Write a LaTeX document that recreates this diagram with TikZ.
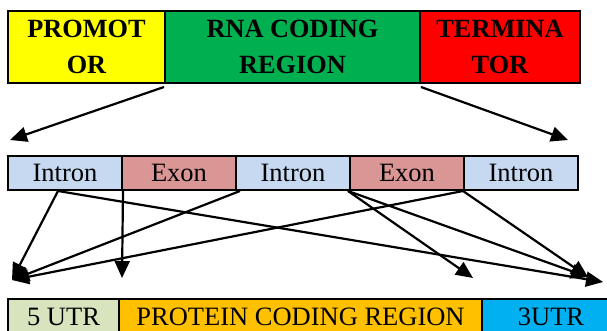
\documentclass[tikz,border=0pt]{standalone}
\usepackage{fontspec}
\setmainfont{Liberation Serif}
\usetikzlibrary{arrows.meta,positioning}

\definecolor{promyellow}{HTML}{FFFF00}
\definecolor{rnagreen}{HTML}{00B050}
\definecolor{termred}{HTML}{FF0000}
\definecolor{intronblue}{HTML}{C6D9F1}
\definecolor{exonpink}{HTML}{D99694}
\definecolor{utrgreen}{HTML}{D7E4BD}
\definecolor{protorange}{HTML}{FFC000}
\definecolor{utrcyan}{HTML}{00B0F0}

\tikzset{
  segbox/.style={draw=black, line width=2pt, inner sep=0pt, anchor=center},
  genebox/.style={segbox, minimum height=72pt, align=center,
    font=\bfseries\fontsize{26.3}{36}\selectfont},
  partbox/.style={segbox, minimum height=34pt, minimum width=114pt,
    font=\fontsize{26.5}{30}\selectfont},
  mrnabox/.style={segbox, minimum height=44pt,
    font=\fontsize{26.5}{30}\selectfont},
  link/.style={line width=2.2pt, draw=black,
    -{Triangle[length=17pt,width=15pt]}}
}

\begin{document}
\begin{tikzpicture}[x=1pt,y=1pt]
\useasboundingbox (0,0) rectangle (607,331);
\clip (0,0) rectangle (607,331);

% gene: promoter, RNA coding region, terminator
\node[genebox, fill=promyellow, minimum width=157pt] (prom) at (86.5,284) {PROMOT\\OR};
\node[genebox, fill=rnagreen, minimum width=255pt] (rna) at (292.5,284) {RNA CODING\\REGION};
\node[genebox, fill=termred, minimum width=160pt] (term) at (500,284) {TERMINA\\TOR};

% primary transcript: introns and exons
\node[partbox, fill=intronblue] (i1) at (65,158) {Intron};
\node[partbox, fill=exonpink]   (e1) at (179,158) {Exon};
\node[partbox, fill=intronblue] (i2) at (293,158) {Intron};
\node[partbox, fill=exonpink]   (e2) at (407,158) {Exon};
\node[partbox, fill=intronblue] (i3) at (521,158) {Intron};

% mature mRNA, running past the lower edge
\node[mrnabox, fill=utrgreen, minimum width=111pt] (u5) at (63.5,10) {};
\node[mrnabox, fill=protorange, minimum width=363pt] (cds) at (300.5,10) {};
\node[mrnabox, fill=utrcyan, minimum width=138pt] (u3) at (551,10) {};
\node[font=\fontsize{26.5}{30}\selectfont, inner sep=0pt] (u5t) at (63.5,14) {5 UTR};
\node[font=\fontsize{26.5}{30}\selectfont, inner sep=0pt] (cdst) at (300.5,14) {PROTEIN CODING REGION};
\node[font=\fontsize{26.5}{30}\selectfont, inner sep=0pt] (u3t) at (551,14) {3UTR};

% arrow tips
\coordinate (tl) at (10,191);
\coordinate (tr) at (568,191);
\coordinate (bl) at (12,51);
\coordinate (bd) at (122,53);
\coordinate (bm) at (473,53);
\coordinate (br1) at (588,54);
\coordinate (br2) at (603,49);

% gene to transcript
\draw[link] ([yshift=-3pt]rna.south west) -- (tl);
\draw[link] ([yshift=-3pt]rna.south east) -- (tr);

% transcript to mRNA
\draw[link] ([xshift=-7pt]i1.south) -- (bl);
\draw[link] ([xshift=-7pt]i1.south) -- (br2);
\draw[link] ([xshift=2pt]e1.south west) -- (bd);
\draw[link] ([xshift=5pt]i2.south west) -- (bl);
\draw[link] ([xshift=-1pt]e2.south west) -- (bm);
\draw[link] ([xshift=-1pt]e2.south west) -- (br1);
\draw[link] ([xshift=-2pt]e2.south east) -- (bl);
\draw[link] ([xshift=-2pt]e2.south east) -- (br1);
\end{tikzpicture}
\end{document}
